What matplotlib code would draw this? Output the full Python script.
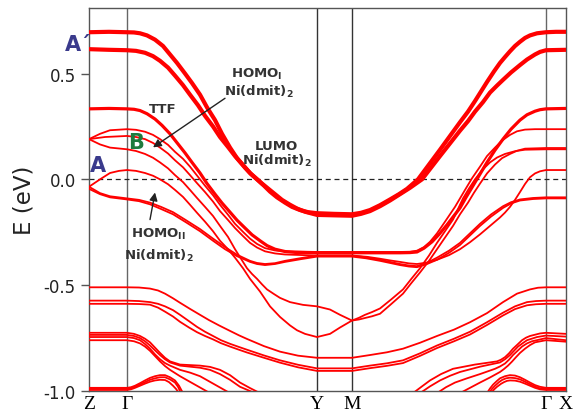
import matplotlib
matplotlib.use("Agg")
import matplotlib.pyplot as plt

plt.rcParams['font.family'] = ['DejaVu Sans']
plt.rcParams['axes.unicode_minus'] = False
plt.rcParams['mathtext.fontset'] = 'dejavusans'

# high-symmetry points along the k-path (arb. path length)
kpt_pos = [0, 38, 228, 263, 457, 477]
kpt_labels = ['Z', 'Γ', 'Y', 'M', 'Γ', 'X']

# bands as (k, E in eV) samples
lumo_a = [(0, 0.695), (20, 0.697), (38, 0.695), (45, 0.694), (51, 0.69), (58, 0.68), (66, 0.66),
          (74, 0.63), (81, 0.59), (88, 0.55), (96, 0.50), (103, 0.455), (111, 0.40), (118, 0.34),
          (126, 0.28), (133, 0.215), (141, 0.15), (148, 0.10), (156, 0.055), (162, 0.025), (168, 0.0),
          (175, -0.03), (181, -0.058), (188, -0.085), (196, -0.11), (203, -0.13), (211, -0.145),
          (219, -0.155), (228, -0.16), (245, -0.163), (263, -0.165), (272, -0.158), (281, -0.145),
          (291, -0.122), (301, -0.095), (310, -0.07), (318, -0.045), (329, 0.0), (340, 0.07),
          (351, 0.14), (361, 0.205), (371, 0.27), (379, 0.32), (386, 0.37), (392, 0.415), (398, 0.46),
          (405, 0.51), (411, 0.55), (416, 0.578), (421, 0.605), (426, 0.63), (431, 0.65), (436, 0.668),
          (441, 0.68), (448, 0.69), (457, 0.695), (467, 0.697), (477, 0.697)]
lumo_b = [(0, 0.615), (20, 0.612), (38, 0.61), (47, 0.607), (56, 0.598), (64, 0.582), (71, 0.56),
          (79, 0.528), (86, 0.49), (94, 0.445), (101, 0.40), (109, 0.35), (116, 0.30), (124, 0.25),
          (131, 0.20), (139, 0.153), (146, 0.11), (154, 0.068), (161, 0.03), (173, -0.02), (186, -0.07),
          (193, -0.097), (201, -0.12), (208, -0.138), (216, -0.153), (228, -0.168), (245, -0.17),
          (263, -0.172), (272, -0.163), (281, -0.15), (291, -0.127), (301, -0.10), (311, -0.07),
          (321, -0.04), (333, 0.0), (342, 0.055), (351, 0.11), (361, 0.17), (371, 0.23), (379, 0.275),
          (386, 0.32), (394, 0.365), (401, 0.41), (408, 0.443), (414, 0.47), (422, 0.505), (431, 0.54),
          (438, 0.566), (446, 0.59), (451, 0.602), (457, 0.61), (477, 0.612)]
ttf = [(0, 0.333), (20, 0.335), (38, 0.333), (45, 0.331), (51, 0.325), (58, 0.31), (66, 0.285),
       (73, 0.255), (81, 0.215), (88, 0.173), (96, 0.125), (103, 0.08), (111, 0.03), (118, -0.02),
       (126, -0.07), (133, -0.112), (141, -0.155), (148, -0.193), (156, -0.23), (163, -0.262),
       (171, -0.29), (178, -0.313), (186, -0.33), (196, -0.341), (206, -0.345), (228, -0.347),
       (263, -0.347), (311, -0.347), (321, -0.346), (328, -0.343), (335, -0.325), (343, -0.295),
       (350, -0.26), (358, -0.215), (364, -0.178), (371, -0.135), (377, -0.085), (384, -0.03),
       (391, 0.025), (398, 0.08), (406, 0.138), (414, 0.19), (422, 0.237), (431, 0.28), (438, 0.305),
       (446, 0.322), (451, 0.329), (457, 0.333), (477, 0.335)]
b_top = [(0, 0.19), (11, 0.215), (21, 0.232), (38, 0.237), (47, 0.234), (56, 0.225), (64, 0.21),
         (71, 0.19), (79, 0.163), (86, 0.13), (94, 0.097), (101, 0.06), (108, 0.018), (116, -0.03),
         (124, -0.075), (131, -0.12), (139, -0.167), (146, -0.21), (154, -0.248), (161, -0.28),
         (168, -0.305), (176, -0.325), (186, -0.336), (196, -0.34), (228, -0.343), (263, -0.343),
         (311, -0.343), (321, -0.342), (328, -0.337), (335, -0.32), (341, -0.295), (348, -0.255),
         (356, -0.20), (361, -0.165), (366, -0.13), (371, -0.09), (376, -0.05), (383, 0.005),
         (391, 0.06), (398, 0.11), (406, 0.15), (413, 0.183), (421, 0.21), (428, 0.227), (436, 0.235),
         (446, 0.237), (457, 0.237), (477, 0.237)]
b_mid = [(0, 0.19), (16, 0.20), (38, 0.205), (47, 0.2), (56, 0.19), (64, 0.172), (71, 0.15),
         (79, 0.122), (86, 0.09), (94, 0.057), (101, 0.02), (108, -0.018), (116, -0.06), (124, -0.105),
         (131, -0.15), (139, -0.192), (146, -0.23), (154, -0.268), (161, -0.30), (168, -0.322),
         (176, -0.34), (186, -0.35), (196, -0.355), (228, -0.36), (263, -0.36), (278, -0.366),
         (291, -0.375), (301, -0.383), (311, -0.39), (320, -0.397), (328, -0.40), (338, -0.393),
         (348, -0.38), (360, -0.358), (371, -0.33), (381, -0.297), (391, -0.26), (401, -0.22),
         (411, -0.18), (416, -0.157), (421, -0.13), (426, -0.097), (431, -0.06), (436, -0.022),
         (441, 0.01), (446, 0.028), (451, 0.038), (457, 0.044), (477, 0.044)]
b_low = [(0, 0.19), (11, 0.165), (21, 0.15), (38, 0.142), (47, 0.134), (56, 0.12), (64, 0.102),
         (71, 0.08), (79, 0.052), (86, 0.02), (94, -0.013), (101, -0.05), (108, -0.088), (116, -0.13),
         (124, -0.173), (131, -0.22), (139, -0.272), (146, -0.33), (152, -0.375), (158, -0.42),
         (163, -0.447), (168, -0.47), (173, -0.496), (178, -0.52), (185, -0.542), (191, -0.56),
         (201, -0.58), (214, -0.593), (228, -0.60), (241, -0.615), (251, -0.64), (263, -0.667),
         (270, -0.654), (276, -0.64), (283, -0.627), (291, -0.61), (302, -0.568), (314, -0.52),
         (322, -0.472), (331, -0.42), (340, -0.36), (348, -0.30), (356, -0.245), (364, -0.19),
         (369, -0.14), (374, -0.09), (380, -0.043), (386, 0.0), (393, 0.043), (401, 0.08),
         (408, 0.103), (416, 0.12), (426, 0.133), (436, 0.14), (457, 0.142), (477, 0.142)]
a_band = [(0, -0.035), (11, 0.0), (21, 0.03), (30, 0.04), (38, 0.044), (47, 0.04), (56, 0.03),
          (64, 0.017), (71, 0.0), (79, -0.023), (86, -0.05), (94, -0.083), (101, -0.12), (108, -0.158),
          (116, -0.20), (124, -0.245), (131, -0.29), (139, -0.33), (146, -0.37), (154, -0.42),
          (161, -0.47), (166, -0.5), (171, -0.53), (176, -0.565), (181, -0.60), (191, -0.65),
          (201, -0.69), (208, -0.713), (216, -0.73), (228, -0.745), (241, -0.73), (251, -0.70),
          (263, -0.667), (270, -0.662), (276, -0.655), (283, -0.647), (291, -0.635), (302, -0.59),
          (314, -0.54), (322, -0.492), (331, -0.44), (340, -0.385), (348, -0.33), (356, -0.275),
          (364, -0.22), (371, -0.165), (379, -0.11), (385, -0.063), (391, -0.02), (398, 0.028),
          (406, 0.07), (413, 0.1), (421, 0.12), (428, 0.135), (436, 0.145), (457, 0.148), (477, 0.148)]
homo2_a = [(0, -0.035), (11, -0.065), (21, -0.08), (38, -0.09), (50, -0.097), (61, -0.11),
           (72, -0.13), (84, -0.155), (97, -0.193), (111, -0.235), (124, -0.28), (136, -0.32),
           (148, -0.356), (161, -0.385), (168, -0.395), (176, -0.40), (186, -0.396), (196, -0.385),
           (212, -0.372), (228, -0.36), (263, -0.36), (277, -0.368), (291, -0.38), (311, -0.40),
           (320, -0.407), (328, -0.41), (338, -0.394), (348, -0.37), (360, -0.337), (371, -0.30),
           (381, -0.255), (391, -0.21), (402, -0.166), (414, -0.127), (422, -0.108), (431, -0.095),
           (444, -0.088), (457, -0.085), (477, -0.085)]
homo2_b = [(0, -0.045), (11, -0.07), (21, -0.085), (38, -0.095), (50, -0.103), (61, -0.118),
           (72, -0.14), (84, -0.165), (97, -0.203), (111, -0.245), (124, -0.29), (136, -0.33),
           (148, -0.363), (161, -0.39), (168, -0.4), (176, -0.405), (186, -0.4), (196, -0.39),
           (212, -0.377), (228, -0.365), (263, -0.365), (277, -0.373), (291, -0.385), (311, -0.405),
           (320, -0.412), (328, -0.415), (338, -0.4), (348, -0.38), (360, -0.347), (371, -0.31),
           (381, -0.265), (391, -0.22), (402, -0.176), (414, -0.135), (422, -0.114), (431, -0.10),
           (444, -0.093), (457, -0.09), (477, -0.09)]
low_a = [(0, -0.51), (38, -0.51), (50, -0.511), (61, -0.516), (69, -0.525), (76, -0.54),
         (84, -0.562), (91, -0.583), (101, -0.612), (111, -0.64), (120, -0.665), (130, -0.69),
         (141, -0.716), (150, -0.737), (158, -0.754), (175, -0.788), (191, -0.814), (209, -0.833),
         (228, -0.843), (263, -0.843), (281, -0.83), (298, -0.817), (314, -0.80),
         (331, -0.772), (348, -0.74), (365, -0.71), (381, -0.675), (398, -0.632), (414, -0.58),
         (428, -0.54), (441, -0.52), (449, -0.512), (457, -0.51), (477, -0.51)]
low_b = [(0, -0.573), (38, -0.573), (50, -0.575), (61, -0.58), (69, -0.588), (76, -0.60),
         (84, -0.618), (91, -0.64), (100, -0.67), (108, -0.697), (116, -0.72), (124, -0.74),
         (132, -0.76), (141, -0.777), (150, -0.792), (158, -0.805), (175, -0.832), (191, -0.855),
         (209, -0.876), (228, -0.893), (263, -0.893), (281, -0.88), (298, -0.869), (314, -0.855),
         (331, -0.822), (348, -0.785), (365, -0.753), (381, -0.72), (398, -0.675), (414, -0.63),
         (426, -0.6), (438, -0.58), (447, -0.575), (457, -0.573), (477, -0.573)]
low_c = [(0, -0.588), (38, -0.588), (50, -0.589), (61, -0.592), (69, -0.606), (76, -0.625),
         (84, -0.648), (91, -0.673), (100, -0.7), (108, -0.722), (116, -0.74), (124, -0.756),
         (132, -0.774), (141, -0.79), (150, -0.805), (158, -0.818), (175, -0.843), (191, -0.866),
         (209, -0.888), (228, -0.905), (263, -0.905), (281, -0.892), (298, -0.881), (314, -0.868),
         (331, -0.834), (348, -0.797), (365, -0.765), (381, -0.733), (398, -0.688), (414, -0.643),
         (426, -0.613), (438, -0.595), (447, -0.59), (457, -0.588), (477, -0.588)]
deep_left_1 = [(0, -0.725), (38, -0.725), (45, -0.73), (51, -0.74), (56, -0.753), (61, -0.77),
               (66, -0.795), (71, -0.82), (76, -0.843), (81, -0.86), (91, -0.875), (111, -0.88),
               (121, -0.886), (131, -0.90), (141, -0.925), (151, -0.96), (161, -0.986), (171, -1.01)]
deep_left_2 = [(0, -0.735), (38, -0.735), (45, -0.74), (51, -0.75), (56, -0.765), (61, -0.785),
               (66, -0.808), (71, -0.83), (76, -0.85), (81, -0.865), (91, -0.88), (111, -0.89),
               (121, -0.9), (131, -0.92), (141, -0.947), (151, -0.98), (166, -1.01)]
deep_left_3 = [(0, -0.745), (38, -0.745), (45, -0.75), (51, -0.76), (56, -0.778), (61, -0.80),
               (66, -0.827), (71, -0.85), (76, -0.868), (81, -0.88), (91, -0.90), (101, -0.913),
               (111, -0.93), (126, -0.97), (141, -1.01)]
deep_left_4 = [(0, -0.76), (38, -0.76), (45, -0.765), (51, -0.775), (56, -0.79), (61, -0.81),
               (66, -0.835), (71, -0.86), (76, -0.882), (81, -0.90), (91, -0.93), (106, -0.97),
               (121, -1.01)]
deep_right_1 = [(324, -1.01), (333, -0.978), (341, -0.95), (352, -0.92), (364, -0.895), (386, -0.875),
                (408, -0.86), (412, -0.852), (416, -0.84), (420, -0.822), (424, -0.80), (429, -0.778),
                (433, -0.76), (437, -0.748), (441, -0.74), (451, -0.728), (457, -0.725), (477, -0.73)]
deep_right_2 = [(331, -1.01), (341, -0.978), (351, -0.95), (361, -0.928), (371, -0.91), (391, -0.885),
                (411, -0.865), (416, -0.85), (421, -0.83), (425, -0.81), (429, -0.79), (434, -0.773),
                (438, -0.76), (448, -0.745), (457, -0.738), (477, -0.743)]
deep_right_3 = [(348, -1.01), (357, -0.982), (366, -0.96), (378, -0.94), (391, -0.92), (406, -0.895),
                (411, -0.884), (416, -0.87), (420, -0.852), (424, -0.83), (429, -0.808), (433, -0.79),
                (438, -0.775), (443, -0.765), (457, -0.75), (477, -0.76)]
deep_right_4 = [(371, -1.01), (381, -0.985), (391, -0.96), (401, -0.936), (411, -0.91), (415, -0.896),
                (419, -0.88), (423, -0.861), (427, -0.84), (431, -0.82), (436, -0.80), (441, -0.783),
                (446, -0.77), (457, -0.76), (477, -0.767)]
hump_left_1 = [(0, -0.985), (38, -0.985), (42, -0.982), (46, -0.975), (51, -0.963), (56, -0.95),
               (61, -0.938), (66, -0.93), (71, -0.925), (76, -0.925), (81, -0.935), (86, -0.95),
               (90, -0.975), (94, -1.01)]
hump_left_2 = [(0, -0.99), (38, -0.99), (42, -0.987), (46, -0.98), (51, -0.969), (56, -0.958),
               (61, -0.947), (66, -0.94), (71, -0.935), (76, -0.935), (81, -0.945), (86, -0.96),
               (89, -0.98), (92, -1.01)]
hump_left_3 = [(0, -0.995), (38, -0.995), (42, -0.992), (46, -0.985), (51, -0.975), (56, -0.965),
               (61, -0.956), (66, -0.95), (71, -0.947), (76, -0.948), (80, -0.958), (84, -0.975),
               (87, -0.99), (90, -1.01)]
hump_right_1 = [(398, -1.01), (401, -0.988), (404, -0.97), (408, -0.952), (411, -0.94), (416, -0.93),
                (421, -0.925), (426, -0.927), (431, -0.935), (436, -0.947), (441, -0.96), (446, -0.972),
                (451, -0.98), (457, -0.985), (477, -0.985)]
hump_right_2 = [(400, -1.01), (403, -0.99), (406, -0.975), (410, -0.958), (413, -0.948), (417, -0.94),
                (421, -0.937), (426, -0.939), (431, -0.945), (436, -0.956), (441, -0.968), (446, -0.979),
                (451, -0.987), (457, -0.99), (477, -0.99)]
hump_right_3 = [(402, -1.01), (405, -0.993), (408, -0.98), (412, -0.966), (415, -0.958), (418, -0.952),
                (421, -0.95), (426, -0.951), (431, -0.956), (436, -0.965), (441, -0.975), (446, -0.985),
                (451, -0.992), (457, -0.995), (477, -0.995)]

thick = [lumo_a, lumo_b]
medium = [ttf]
thin = [b_top, b_mid, b_low, a_band, homo2_a, homo2_b, low_a, low_b, low_c,
        deep_left_1, deep_left_2, deep_left_3, deep_left_4,
        deep_right_1, deep_right_2, deep_right_3, deep_right_4,
        hump_left_1, hump_left_2, hump_left_3, hump_right_1, hump_right_2, hump_right_3]

fig = plt.figure(figsize=(5.81, 4.14), dpi=100)
ax = fig.add_axes([0.1532, 0.0531, 0.821, 0.9244])

for band in thick:
    k, e = zip(*band)
    ax.plot(k, e, color='#ff0000', lw=3.0, solid_joinstyle='round', zorder=3)
for band in medium:
    k, e = zip(*band)
    ax.plot(k, e, color='#ff0000', lw=2.3, solid_joinstyle='round', zorder=3)
for band in thin:
    k, e = zip(*band)
    ax.plot(k, e, color='#ff0000', lw=1.3, solid_joinstyle='round', zorder=3)

for i, kp in enumerate(kpt_pos[1:-1]):
    ax.axvline(kp, color='#666666' if i in (0, 3) else '#333333', lw=1.0, zorder=2)
ax.axhline(0, color='#222222', ls=(0, (4, 3)), lw=0.9, zorder=2)

ax.set_xlim(kpt_pos[0], kpt_pos[-1])
ax.set_ylim(-1.0, 0.808)
ax.set_xticks(kpt_pos)
ax.set_xticklabels(kpt_labels, family='Liberation Serif', fontsize=14)
ax.tick_params(axis='x', length=0, pad=3)
ax.set_yticks([0.5, 0.0, -0.5, -1.0])
ax.set_yticklabels(['0.5', '0.0', '-0.5', '-1.0'])
ax.tick_params(axis='y', length=6, width=1.0, labelsize=12, color='#555555', labelcolor='#222222')
for sp in ax.spines.values():
    sp.set_color('#555555')
    sp.set_linewidth(1.0)
ax.set_ylabel('E (eV)', fontsize=16.5, color='#222222', labelpad=6)

lab = dict(fontsize=9.5, fontweight='bold', color='#333333', ha='center', va='center')
ax.text(-11, 0.639, 'A´', fontsize=15, fontweight='bold', color='#3a3a8c', ha='center',
        va='center', clip_on=False)
ax.text(9, 0.07, 'A', fontsize=15, fontweight='bold', color='#3a3a8c', ha='center', va='center')
ax.text(47, 0.175, 'B', fontsize=15, fontweight='bold', color='#1f7a3d', ha='center', va='center')
ax.text(74, 0.335, 'TTF', **lab)
ax.text(168, 0.50, r'HOMO$_{\mathbf{I}}$', **lab)
ax.text(170, 0.416, r'Ni(dmit)$_{\mathbf{2}}$', **lab)
ax.text(187, 0.16, 'LUMO', **lab)
ax.text(188, 0.09, r'Ni(dmit)$_{\mathbf{2}}$', **lab)
ax.text(69, -0.256, r'HOMO$_{\mathbf{II}}$', **lab)
ax.text(70, -0.355, r'Ni(dmit)$_{\mathbf{2}}$', **lab)

arrow = dict(arrowstyle='-|>', color='#222222', lw=1.0, mutation_scale=12, shrinkA=0, shrinkB=0)
ax.annotate('', xy=(64, 0.151), xytext=(136, 0.383), arrowprops=arrow)
ax.annotate('', xy=(66, -0.062), xytext=(61, -0.19), arrowprops=arrow)

fig.savefig('out.png', dpi=100)
